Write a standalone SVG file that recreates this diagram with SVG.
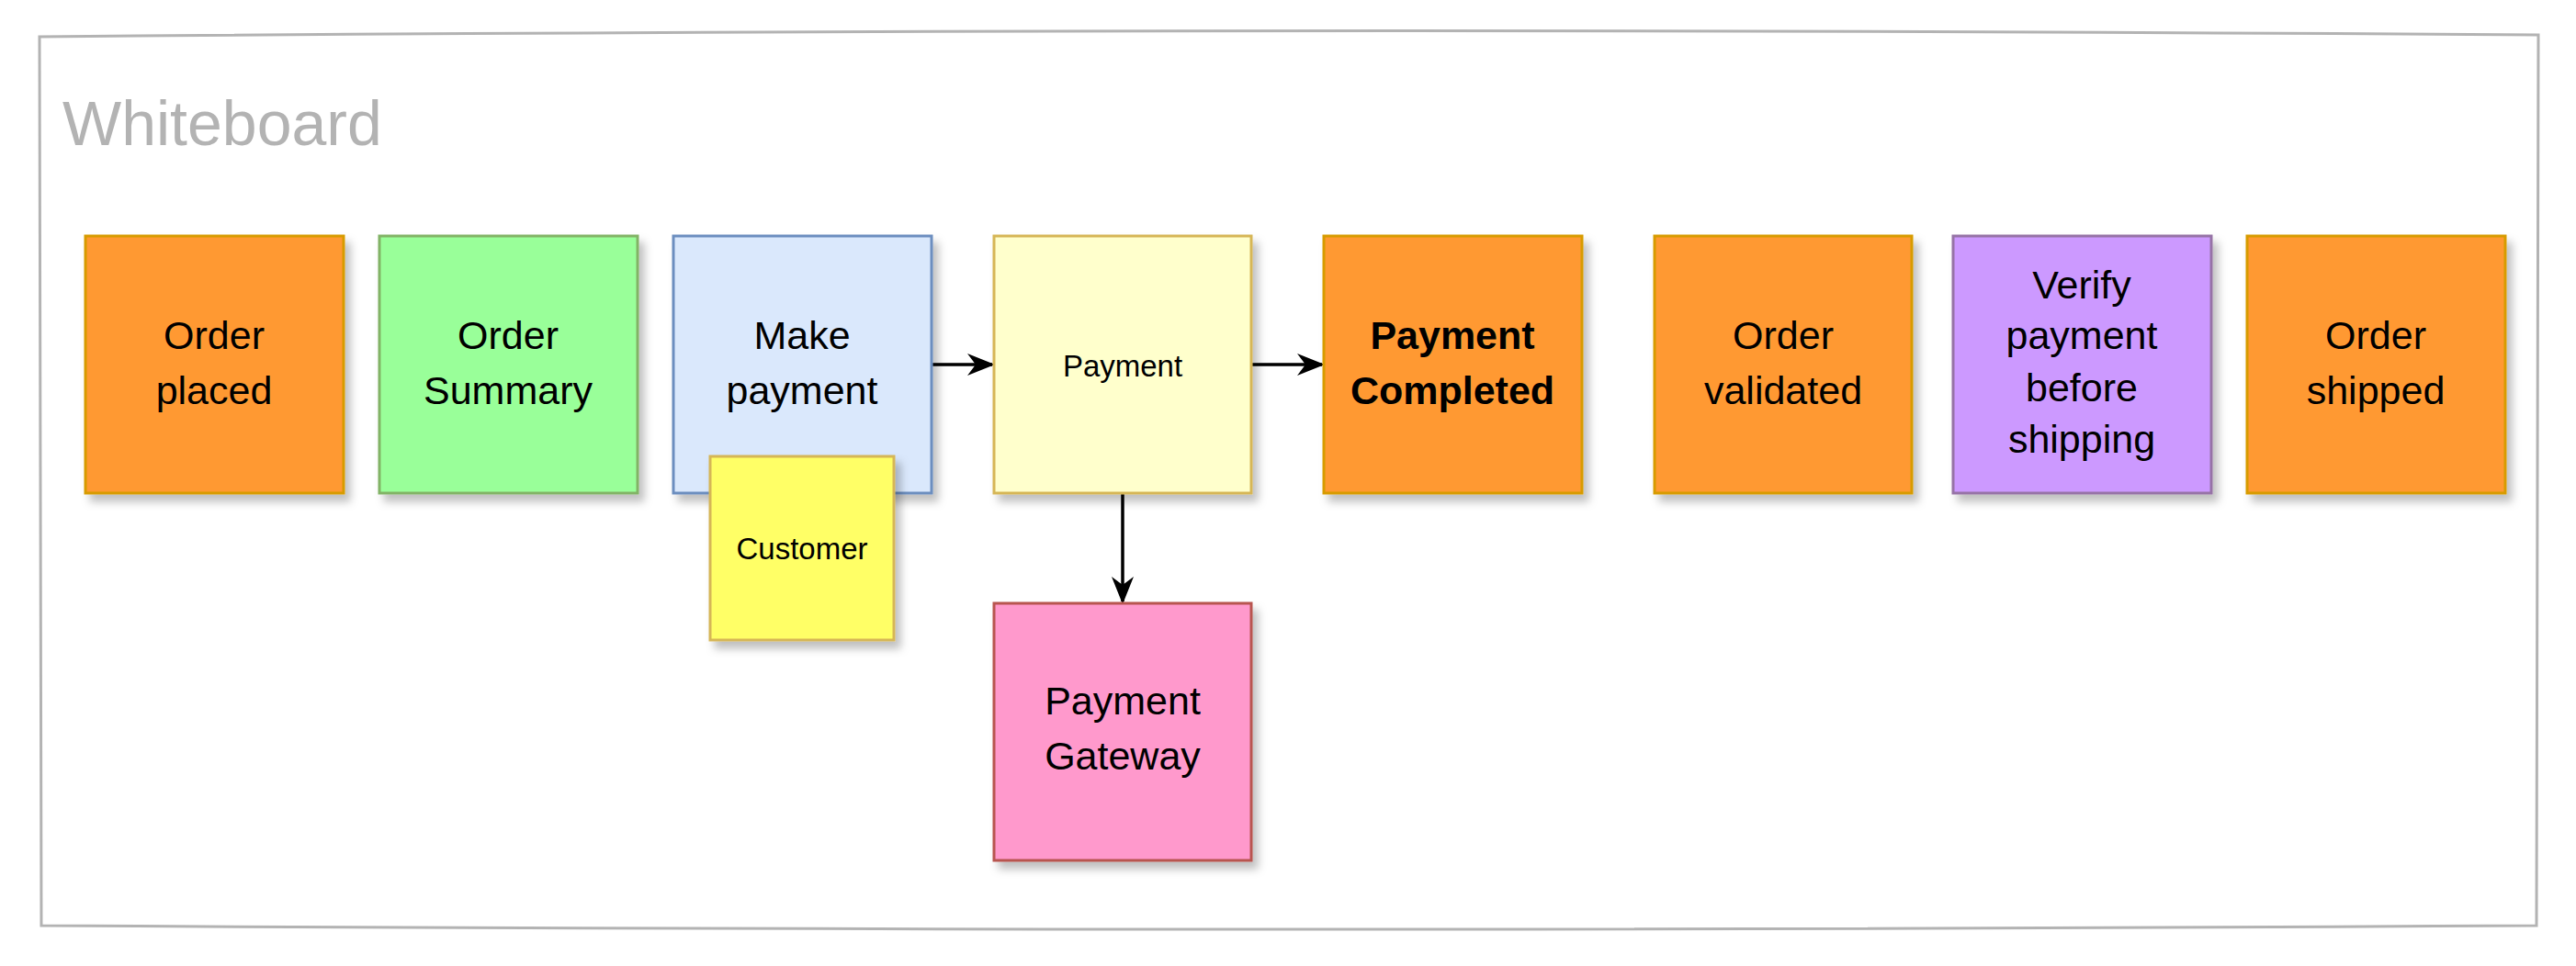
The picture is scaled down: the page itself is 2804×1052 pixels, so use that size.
<svg xmlns="http://www.w3.org/2000/svg" width="2804" height="1052" viewBox="0 0 2804 1052">
<style>
.n{stroke-width:3;filter:url(#sh)}
.t{font-family:"Liberation Sans",Arial,sans-serif;font-size:43px;text-anchor:middle;fill:#000}
.s{font-size:33px}
.e{stroke:#000;stroke-width:3.5;fill:none;marker-end:url(#ar)}
</style>
<defs>
<filter id="sh" x="-10%" y="-10%" width="130%" height="130%"><feDropShadow dx="6" dy="8" stdDeviation="5" flood-color="#000" flood-opacity="0.25"/></filter>
<marker id="ar" viewBox="0 0 10 10" refX="9" refY="5" markerWidth="30" markerHeight="30" orient="auto" markerUnits="userSpaceOnUse"><path d="M0,1 L10,5 L0,9 L3,5 Z" fill="#000"/></marker>
</defs>
<rect width="2804" height="1052" fill="#fff"/>
<g id="whiteboard">
<path d="M43,40 Q1400,28 2763,38 L2761,1008 Q1400,1016 45,1008 Z" fill="none" stroke="#b3b3b3" stroke-width="3"/>
<text x="68" y="158" font-family="Liberation Sans,Arial,sans-serif" font-size="68" fill="#b3b3b3">Whiteboard</text>
</g>
<g id="connectors">
<path class="e" d="M1014,397 L1080,397"/>
<path class="e" d="M1362,397 L1439,397"/>
<path class="e" d="M1222,536 L1222,655"/>
</g>
<g id="n1"><rect class="n" x="93" y="257" width="281" height="280" fill="#ff9933" stroke="#d79b00"/><text class="t" x="233" y="380">Order</text><text class="t" x="233" y="440">placed</text></g>
<g id="n2"><rect class="n" x="413" y="257" width="281" height="280" fill="#99ff99" stroke="#82b366"/><text class="t" x="553" y="380">Order</text><text class="t" x="553" y="440">Summary</text></g>
<g id="n3"><rect class="n" x="733" y="257" width="281" height="280" fill="#dae8fc" stroke="#6c8ebf"/><text class="t" x="873" y="380">Make</text><text class="t" x="873" y="440">payment</text></g>
<g id="n4"><rect class="n" x="1082" y="257" width="280" height="280" fill="#ffffcc" stroke="#d6b656"/><text class="t s" x="1222" y="410">Payment</text></g>
<g id="n5"><rect class="n" x="1441" y="257" width="281" height="280" fill="#ff9933" stroke="#d79b00"/><text class="t" x="1581" y="380" font-weight="bold">Payment</text><text class="t" x="1581" y="440" font-weight="bold">Completed</text></g>
<g id="n6"><rect class="n" x="1801" y="257" width="280" height="280" fill="#ff9933" stroke="#d79b00"/><text class="t" x="1941" y="380">Order</text><text class="t" x="1941" y="440">validated</text></g>
<g id="n7"><rect class="n" x="2126" y="257" width="281" height="280" fill="#cc99ff" stroke="#9673a6"/><text class="t" x="2266" y="325">Verify</text><text class="t" x="2266" y="380">payment</text><text class="t" x="2266" y="437">before</text><text class="t" x="2266" y="493">shipping</text></g>
<g id="n8"><rect class="n" x="2446" y="257" width="281" height="280" fill="#ff9933" stroke="#d79b00"/><text class="t" x="2586" y="380">Order</text><text class="t" x="2586" y="440">shipped</text></g>
<g id="customer"><rect class="n" x="773" y="497" width="200" height="200" fill="#ffff66" stroke="#d6b656"/><text class="t s" x="873" y="609">Customer</text></g>
<g id="gateway"><rect class="n" x="1082" y="657" width="280" height="280" fill="#ff99cc" stroke="#b85450"/><text class="t" x="1222" y="778">Payment</text><text class="t" x="1222" y="838">Gateway</text></g>
</svg>
